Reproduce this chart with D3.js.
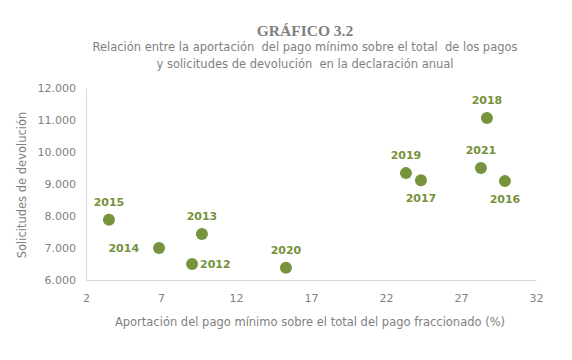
<!DOCTYPE html>
<meta charset="utf-8">
<style>
body { margin: 0; background: #fff; }
.tick text { font: 11px "DejaVu Sans", Verdana, sans-serif; fill: #808080; }
.domain { stroke: #d9d9d9; }
.pt-label { font: bold 11px "DejaVu Sans", Verdana, sans-serif; fill: #76923c; }
.lbl { font: 11.5px "DejaVu Sans", Verdana, sans-serif; fill: #7f7f7f; white-space: pre; }
</style>
<svg width="572" height="360"></svg>
<script src="https://cdn.jsdelivr.net/npm/d3@7"></script>
<script>

var years = ["2012", "2013", "2014", "2015", "2016", "2017", "2018", "2019", "2020", "2021"];
var pagoMinimo = [9.07, 9.73, 6.87, 3.53, 29.93, 24.33, 28.73, 23.33, 15.33, 28.33];
var solicitudes = [6500, 7440, 7000, 7880, 9090, 9120, 11060, 9340, 6380, 9500];
var xTicks = [2, 7, 12, 17, 22, 27, 32];
var yTicks = [6000, 7000, 8000, 9000, 10000, 11000, 12000];

// where each year label sits relative to its dot
var labelSide = {
  "2012": "right", "2013": "top", "2014": "left", "2015": "top", "2016": "bottom",
  "2017": "bottom", "2018": "top", "2019": "top", "2020": "top", "2021": "top"
};

var svg = d3.select("svg"),
    margin = {top: 88, right: 36, bottom: 80, left: 86},
    width = +svg.attr("width") - margin.left - margin.right,
    height = +svg.attr("height") - margin.top - margin.bottom,
    g = svg.append("g").attr("transform", "translate(" + margin.left + "," + margin.top + ")");

var es = d3.formatLocale({decimal: ",", thousands: ".", grouping: [3], currency: ["", ""]});

var x = d3.scaleLinear().domain([2, 32]).range([0, width]);
var y = d3.scaleLinear().domain([6000, 12000]).range([height, 0]);

g.append("g")
    .attr("transform", "translate(0," + height + ")")
    .call(d3.axisBottom(x).tickValues(xTicks).tickSize(0).tickPadding(14).tickFormat(d3.format("d")));

g.append("g")
    .call(d3.axisLeft(y).tickValues(yTicks).tickSize(0).tickPadding(10).tickFormat(es.format(",d")));

var data = years.map(function(d, i) { return {year: d, x: pagoMinimo[i], y: solicitudes[i]}; });

g.selectAll(".dot")
    .data(data)
  .enter().append("circle")
    .attr("class", "dot")
    .attr("cx", function(d) { return x(d.x); })
    .attr("cy", function(d) { return y(d.y); })
    .attr("r", 6)
    .attr("fill", "#77933c");

g.selectAll(".pt-label")
    .data(data)
  .enter().append("text")
    .attr("class", "pt-label")
    .attr("x", function(d) {
      var s = labelSide[d.year];
      return x(d.x) + (s == "left" ? -20 : s == "right" ? 8 : 0);
    })
    .attr("y", function(d) {
      var s = labelSide[d.year];
      return y(d.y) + (s == "top" ? -18 : s == "bottom" ? 18 : 0);
    })
    .attr("dy", "0.35em")
    .attr("text-anchor", function(d) {
      var s = labelSide[d.year];
      return s == "left" ? "end" : s == "right" ? "start" : "middle";
    })
    .text(function(d) { return d.year; });

svg.append("text")
    .attr("x", 305).attr("y", 36)
    .attr("text-anchor", "middle")
    .style("font", "bold 15.5px 'Liberation Serif', Cambria, serif")
    .style("fill", "#7f7f7f")
    .text("GRÁFICO 3.2");

var sub = svg.append("text")
    .attr("class", "lbl")
    .attr("text-anchor", "middle");
sub.append("tspan").attr("x", 305).attr("y", 51).text("Relación entre la aportación  del pago mínimo sobre el total  de los pagos");
sub.append("tspan").attr("x", 305).attr("y", 68).text("y solicitudes de devolución  en la declaración anual");

svg.append("text")
    .attr("class", "lbl")
    .attr("x", 310).attr("y", 326)
    .attr("text-anchor", "middle")
    .text("Aportación del pago mínimo sobre el total del pago fraccionado (%)");

svg.append("text")
    .attr("class", "lbl")
    .attr("transform", "translate(26,185) rotate(-90)")
    .attr("text-anchor", "middle")
    .text("Solicitudes de devolución");

</script>
